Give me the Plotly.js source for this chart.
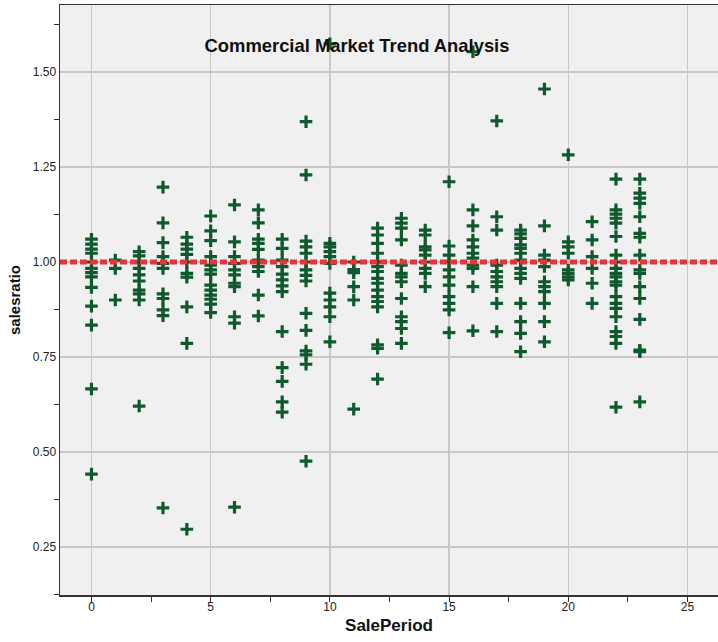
<!DOCTYPE html>
<html>
<head>
<meta charset="utf-8">
<script src="https://cdn.plot.ly/plotly-3.0.1.min.js"></script>
<style>
  html, body { margin: 0; padding: 0; background: #ffffff; }
  #chart { width: 718px; height: 642px; }
</style>
</head>
<body>
<div id="chart"></div>
<script>
// Sale periods on the x axis
const salePeriods = [0, 1, 2, 3, 4, 5, 6, 7, 8, 9, 10, 11, 12, 13, 14, 15, 16, 17, 18, 19, 20, 21, 22, 23];

// Sales ratios recorded in each sale period (one list per period)
const ratiosByPeriod = [
  [1.06, 1.047, 1.034, 1.023, 1.00, 0.983, 0.972, 0.961, 0.933, 0.884, 0.834, 0.666, 0.442],
  [1.005, 0.983, 0.90],
  [1.027, 1.016, 1.00, 0.983, 0.966, 0.95, 0.926, 0.916, 0.90, 0.621],
  [1.197, 1.103, 1.051, 1.014, 0.996, 0.983, 0.916, 0.904, 0.874, 0.859, 0.353],
  [1.065, 1.047, 1.034, 1.02, 1.00, 0.97, 0.96, 0.882, 0.786, 0.297],
  [1.121, 1.082, 1.056, 1.014, 0.992, 0.979, 0.968, 0.939, 0.926, 0.913, 0.902, 0.889, 0.867],
  [1.15, 1.053, 1.014, 0.996, 0.979, 0.966, 0.944, 0.935, 0.856, 0.839, 0.355],
  [1.137, 1.103, 1.06, 1.049, 1.033, 1.005, 0.988, 0.975, 0.913, 0.858],
  [1.06, 1.036, 1.005, 0.988, 0.968, 0.953, 0.937, 0.922, 0.817, 0.722, 0.686, 0.632, 0.605],
  [1.369, 1.229, 1.055, 1.04, 1.023, 1.00, 0.979, 0.965, 0.95, 0.865, 0.82, 0.766, 0.756, 0.731, 0.476],
  [1.574, 1.049, 1.04, 1.027, 1.014, 0.996, 0.918, 0.90, 0.882, 0.856, 0.79],
  [1.00, 0.98, 0.972, 0.935, 0.90, 0.613],
  [1.089, 1.071, 1.049, 1.023, 1.00, 0.988, 0.975, 0.957, 0.944, 0.926, 0.909, 0.896, 0.882, 0.782, 0.773, 0.692],
  [1.115, 1.102, 1.089, 1.058, 0.992, 0.97, 0.961, 0.948, 0.904, 0.856, 0.843, 0.825, 0.786],
  [1.084, 1.071, 1.04, 1.032, 1.018, 1.00, 0.983, 0.97, 0.935],
  [1.211, 1.042, 1.018, 1.00, 0.979, 0.961, 0.939, 0.909, 0.891, 0.874, 0.814],
  [1.553, 1.137, 1.095, 1.058, 1.04, 1.023, 1.01, 0.992, 0.983, 0.935, 0.819],
  [1.371, 1.119, 1.084, 0.992, 0.975, 0.961, 0.948, 0.935, 0.891, 0.817],
  [1.084, 1.074, 1.062, 1.045, 1.036, 1.023, 1.005, 0.983, 0.97, 0.957, 0.891, 0.843, 0.812, 0.764],
  [1.455, 1.095, 1.018, 1.005, 0.988, 0.948, 0.935, 0.922, 0.891, 0.843, 0.79],
  [1.282, 1.053, 1.04, 1.023, 0.979, 0.97, 0.961, 0.953],
  [1.106, 1.058, 1.014, 0.983, 0.944, 0.891],
  [1.218, 1.137, 1.126, 1.115, 1.102, 1.067, 1.018, 1.00, 0.983, 0.97, 0.961, 0.948, 0.939, 0.909, 0.891, 0.878, 0.856, 0.817, 0.804, 0.786, 0.618],
  [1.218, 1.181, 1.168, 1.154, 1.119, 1.075, 1.065, 1.018, 0.979, 0.97, 0.935, 0.904, 0.849, 0.768, 0.764, 0.632]
];

// Reference ratio drawn as a dotted line
const referenceRatio = 1.0;

// Axis tick values and labels
const xTickVals = [0, 5, 10, 15, 20, 25];
const yTickVals = [0.25, 0.50, 0.75, 1.00, 1.25, 1.50];
const yTickText = ['0.25', '0.50', '0.75', '1.00', '1.25', '1.50'];

// Flatten period lists into x/y pairs
const xs = [];
const ys = [];
salePeriods.forEach((p, i) => {
  ratiosByPeriod[i].forEach(v => { xs.push(p); ys.push(v); });
});

const trace = {
  type: 'scatter',
  mode: 'markers',
  x: xs,
  y: ys,
  marker: {
    symbol: 'cross-thin',
    size: 9,
    color: '#0f5a2c',
    line: { color: '#0f5a2c', width: 3.2 }
  },
  hoverinfo: 'x+y',
  showlegend: false
};

const sans = 'Liberation Sans, Arial, sans-serif';
const axisFont = { family: sans, size: 12, color: '#222' };

const layout = {
  width: 718,
  height: 642,
  margin: { l: 60, r: 0, t: 5, b: 47 },
  paper_bgcolor: '#ffffff',
  plot_bgcolor: '#f0f0f0',
  title: {
    text: 'Commercial Market Trend Analysis',
    font: { family: sans, size: 18.4, color: '#111', weight: 'bold' },
    x: 357 / 718,
    xanchor: 'center',
    xref: 'container',
    y: 1 - 46 / 642,
    yanchor: 'middle',
    yref: 'container'
  },
  xaxis: {
    range: [-1.32, 26.28],
    tickvals: xTickVals,
    ticks: '',
    tickfont: axisFont,
    showgrid: true,
    gridcolor: '#c8c8c8',
    gridwidth: 1.5,
    zeroline: false,
    showline: true,
    linecolor: '#333',
    linewidth: 1.5,
    mirror: true,
    minor: { dtick: 2.5, tick0: 0, ticks: 'outside', ticklen: 5, tickcolor: '#333', showgrid: false },
    title: { text: 'SalePeriod', font: { family: sans, size: 17, color: '#111', weight: 'bold' }, standoff: 6 }
  },
  yaxis: {
    range: [0.124, 1.676],
    tickvals: yTickVals,
    ticktext: yTickText,
    ticks: '',
    tickfont: axisFont,
    showgrid: true,
    gridcolor: '#c8c8c8',
    gridwidth: 1.5,
    zeroline: false,
    showline: true,
    linecolor: '#333',
    linewidth: 1.5,
    minor: { dtick: 0.25, tick0: 0.125, ticks: 'outside', ticklen: 5, tickcolor: '#333', showgrid: false },
    title: { text: 'salesratio', font: { family: sans, size: 15, color: '#111', weight: 'bold' }, standoff: 8 }
  },
  shapes: [{
    type: 'line',
    xref: 'paper',
    x0: 0,
    x1: 1,
    yref: 'y',
    y0: referenceRatio,
    y1: referenceRatio,
    layer: 'above',
    line: { color: '#e2353d', width: 5, dash: '7px,3px' }
  }]
};

Plotly.newPlot('chart', [trace], layout, { displayModeBar: false, staticPlot: true });
</script>
</body>
</html>
